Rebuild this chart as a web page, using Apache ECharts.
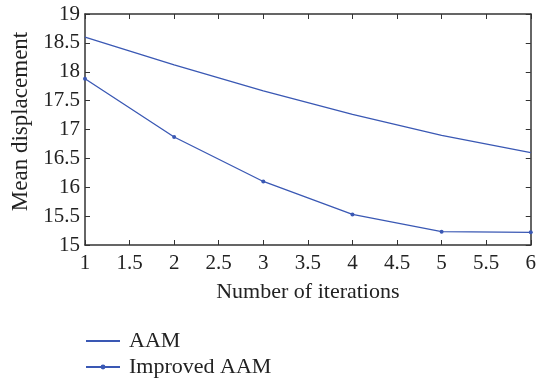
<!DOCTYPE html>
<html>
<head>
<meta charset="utf-8">
<script src="https://cdn.jsdelivr.net/npm/echarts@6/dist/echarts.min.js"></script>
<style>
  html, body { margin: 0; padding: 0; background: #fff; }
  #chart { width: 539px; height: 384px; }
</style>
</head>
<body>
<div id="chart"></div>
<script>
// 迭代次数与平均位移
const iterations = [1, 2, 3, 4, 5, 6];
const aamData = [18.6, 18.12, 17.67, 17.26, 16.9, 16.6];
const improvedData = [17.88, 16.87, 16.1, 15.53, 15.23, 15.22];

const lineColor = '#3a58b4';
const axisColor = '#333';
const font = 'Liberation Serif';

const toPairs = (xs, ys) => xs.map((x, i) => [x, ys[i]]);

const chart = echarts.init(document.getElementById('chart'));

const baseAxis = {
  axisLine: { show: true, lineStyle: { color: axisColor, width: 1.5 } },
  axisTick: { show: true, inside: true, length: 5, lineStyle: { color: axisColor } },
  splitLine: { show: false }
};

const option = {
  animation: false,
  grid: { left: 85, right: 5, top: 14, bottom: 139 },
  legend: {
    orient: 'vertical',
    left: 85,
    top: 330,
    padding: 0,
    itemWidth: 34,
    itemHeight: 6,
    itemGap: 4,
    textStyle: { fontFamily: font, fontSize: 22, color: '#222', padding: [0, 0, 0, 4] },
    data: [
      { name: 'AAM', itemStyle: { color: 'rgba(0,0,0,0)', borderWidth: 0 } },
      { name: 'Improved AAM' }
    ]
  },
  xAxis: [
    {
      ...baseAxis,
      type: 'value', min: 1, max: 6, interval: 0.5,
      name: 'Number of iterations',
      nameLocation: 'middle',
      nameGap: 36,
      nameTextStyle: { fontFamily: font, fontSize: 22, color: '#222' },
      axisLabel: { fontFamily: font, fontSize: 21, color: '#222', margin: 8 }
    },
    {
      ...baseAxis,
      type: 'value', min: 1, max: 6, interval: 0.5,
      position: 'top',
      axisLabel: { show: false }
    }
  ],
  yAxis: [
    {
      ...baseAxis,
      type: 'value', min: 15, max: 19, interval: 0.5,
      name: 'Mean displacement',
      nameLocation: 'middle',
      nameGap: 52,
      nameTextStyle: { fontFamily: font, fontSize: 23, color: '#222', padding: [0, 0, 0, 16] },
      axisLabel: { fontFamily: font, fontSize: 21, color: '#222', margin: 5 }
    },
    {
      ...baseAxis,
      type: 'value', min: 15, max: 19, interval: 0.5,
      position: 'right',
      axisLabel: { show: false }
    }
  ],
  series: [
    {
      name: 'AAM',
      type: 'line',
      data: toPairs(iterations, aamData),
      symbol: 'none',
      lineStyle: { color: lineColor, width: 1.3 },
      itemStyle: { color: lineColor }
    },
    {
      name: 'Improved AAM',
      type: 'line',
      data: toPairs(iterations, improvedData),
      symbol: 'circle',
      symbolSize: 4,
      lineStyle: { color: lineColor, width: 1.3 },
      itemStyle: { color: lineColor }
    }
  ]
};

chart.setOption(option);
</script>
</body>
</html>
